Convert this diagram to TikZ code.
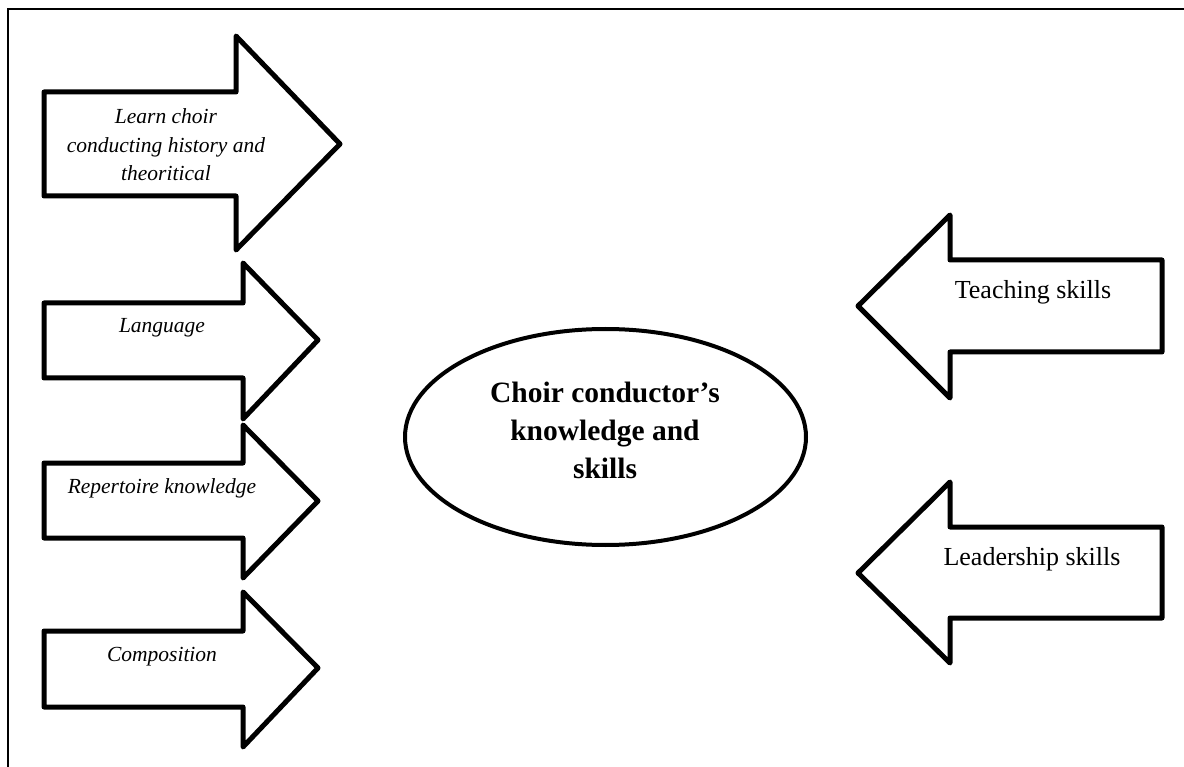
\documentclass[tikz,border=0pt]{standalone}
\usepackage{fontspec}
\setmainfont{Liberation Serif}
\usetikzlibrary{shapes.geometric}
\begin{document}
\begin{tikzpicture}[x=1pt,y=-1pt,
  bigarrow/.style={draw=black,line width=5pt,line join=round,fill=white},
  lefttext/.style={align=center,font=\fontsize{21.5}{28.5}\selectfont\itshape,inner sep=0pt},
  righttext/.style={align=center,font=\fontsize{26}{32}\selectfont,inner sep=0pt},
  frameline/.style={draw=black,line width=2pt}]
\useasboundingbox (0,0) rectangle (1184,767);
% frame (top and left only)
\coordinate (fa) at (8,767);
\coordinate (fb) at (8,9.5);
\coordinate (fc) at (1184,9.5);
\draw[frameline] (fa) -- (fb) -- (fc);
% left arrows
\draw[bigarrow] (44,92) -- (236,92) -- (236,36) -- (340,144) -- (236,250) -- (236,196) -- (44,196) -- cycle;
\draw[bigarrow] (44,303) -- (243,303) -- (243,263) -- (318,340) -- (243,419) -- (243,378) -- (44,378) -- cycle;
\draw[bigarrow] (44,463) -- (243,463) -- (243,425) -- (318,501) -- (243,578) -- (243,538) -- (44,538) -- cycle;
\draw[bigarrow] (44,631) -- (243,631) -- (243,592) -- (318,668) -- (243,747) -- (243,707) -- (44,707) -- cycle;
% right arrows
\draw[bigarrow] (1162,260) -- (950,260) -- (950,215) -- (858,306) -- (950,398) -- (950,352) -- (1162,352) -- cycle;
\draw[bigarrow] (1162,527) -- (950,527) -- (950,482) -- (858,573) -- (950,663) -- (950,618) -- (1162,618) -- cycle;
% labels
\node[lefttext] (history) at (166,145) {Learn choir\\conducting history and\\theoritical};
\node[lefttext] (language) at (162,328) {Language};
\node[lefttext] (repertoire) at (162,488) {Repertoire knowledge};
\node[lefttext] (composition) at (162,657) {Composition};
\node[righttext] (teaching) at (1033,292) {Teaching skills};
\node[righttext] (leadership) at (1032,559) {Leadership skills};
% center ellipse
\node[ellipse,draw=black,line width=4pt,minimum width=401pt,minimum height=216pt,inner sep=0pt] (center) at (605.5,437) {};
\node[align=center,inner sep=0pt,font=\fontsize{29.5}{38}\selectfont\bfseries] (centertext) at (605,430)
  {Choir conductor’s\\knowledge and\\skills};
\end{tikzpicture}
\end{document}
